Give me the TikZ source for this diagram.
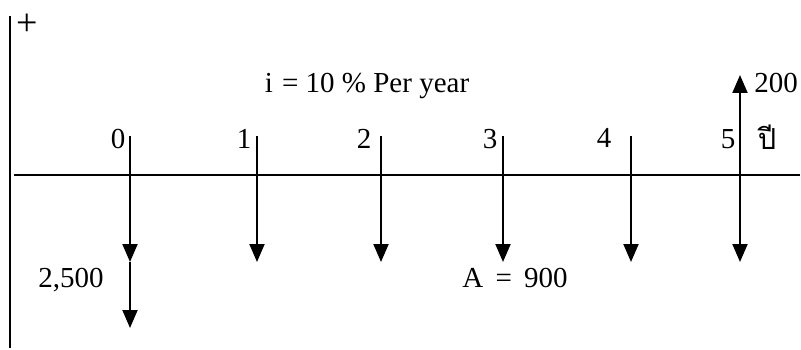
\documentclass[tikz,border=0pt]{standalone}
\usepackage{fontspec}
\setmainfont{Liberation Serif}
\newfontfamily\thaifont[Script=Thai]{Loma}
\usetikzlibrary{arrows.meta}

\begin{document}
\begin{tikzpicture}[x=1pt,y=-1pt,
    flow/.style={line width=2pt,-{Triangle[length=18pt,width=15pt]}},
    lbl/.style={font=\fontsize{29}{32}\selectfont,inner sep=0pt,anchor=base}]
    \useasboundingbox (0,0) rectangle (801,350);

    % Axes
    \coordinate (vtop) at (10,16);
    \coordinate (vbot) at (10,348);
    \coordinate (hleft) at (14,175);
    \coordinate (hright) at (800,175);
    \draw[line width=2pt] (vtop) -- (vbot);
    \draw[line width=2pt] (hleft) -- (hright);
    \node[lbl,anchor=center,font=\fontsize{38}{42}\selectfont] (plus) at (27,25) {+};

    % Tick tops and arrow ends
    \coordinate (t0) at (130,136);
    \coordinate (t1) at (257,136);
    \coordinate (t2) at (381,136);
    \coordinate (t3) at (503,136);
    \coordinate (t4) at (631,136);
    \coordinate (t5) at (740,175);
    \coordinate (b0) at (130,262);
    \coordinate (b1) at (257,262);
    \coordinate (b2) at (381,262);
    \coordinate (b3) at (503,262);
    \coordinate (b4) at (631,262);
    \coordinate (b5) at (740,262);
    \coordinate (c0) at (130,328);
    \coordinate (u5) at (740,75);

    % Cash flows
    \draw[flow] (t0) -- (b0);
    \draw[flow] (b0) -- (c0);
    \draw[flow] (t1) -- (b1);
    \draw[flow] (t2) -- (b2);
    \draw[flow] (t3) -- (b3);
    \draw[flow] (t4) -- (b4);
    \draw[flow] (t5) -- (b5);
    \draw[flow] (t5) -- (u5);

    % Period labels
    \node[lbl] (n0) at (118,149) {0};
    \node[lbl] (n1) at (244,149) {1};
    \node[lbl] (n2) at (364,149) {2};
    \node[lbl] (n3) at (490,149) {3};
    \node[lbl] (n4) at (604,148) {4};
    \node[lbl] (n5) at (728,149) {5};
    \node[lbl,font=\thaifont\fontsize{29}{32}\selectfont] (year) at (767,150) {ปี};

    % Amounts
    \node[lbl] (rate) at (367,93) {i \hspace{2pt}= 10 \% Per year};
    \node[lbl] (f200) at (776,93) {200};
    \node[lbl] (p2500) at (71,287) {2,500};
    \node[lbl] (a900) at (515,287) {A\hspace{5pt} = \hspace{5pt}900};
\end{tikzpicture}
\end{document}
